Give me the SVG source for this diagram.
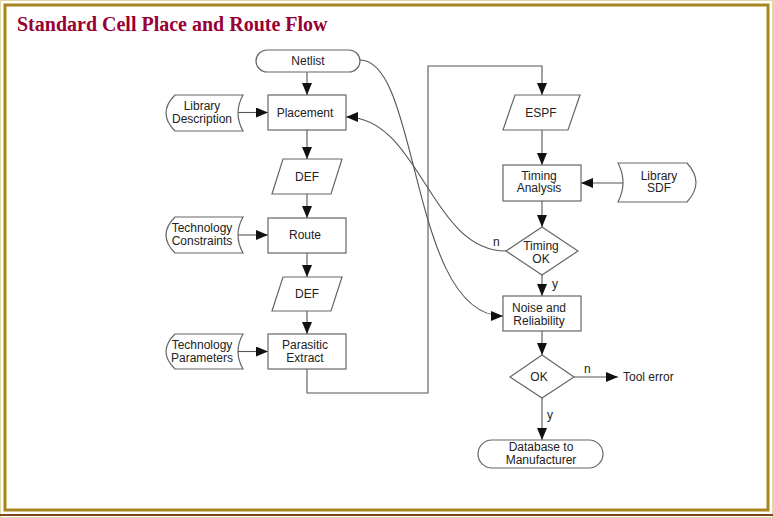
<svg xmlns="http://www.w3.org/2000/svg" width="773" height="518" viewBox="0 0 773 518">
<defs>
<style>
.shape{fill:#fff;stroke:#666;stroke-width:1.2}
.line{fill:none;stroke:#555;stroke-width:1.1}
.t{font-family:"Liberation Sans",Arial,sans-serif;font-size:12px;fill:#222;text-anchor:middle}
.lbl{font-family:"Liberation Sans",Arial,sans-serif;font-size:12px;fill:#222}
.title{font-family:"Liberation Serif","Times New Roman",serif;font-size:20px;font-weight:bold;fill:#990033}
</style>
<marker id="ah" markerUnits="userSpaceOnUse" markerWidth="12" markerHeight="10" refX="12" refY="5" orient="auto">
<path d="M0,0 L12,5 L0,10 Z" fill="#111"/>
</marker>
</defs>
<rect x="0" y="0" width="773" height="518" fill="#fff"/>
<rect x="0.5" y="0.5" width="772" height="517" fill="none" stroke="#E6D7A6" stroke-width="1"/>
<rect x="5" y="5" width="763" height="505" fill="none" stroke="#A8861E" stroke-width="3"/>
<line x1="0" y1="515" x2="773" y2="515" stroke="#7A4A1A" stroke-width="2"/>
<text class="title" x="17" y="31">Standard Cell Place and Route Flow</text>

<g id="connectors">
<line class="line" x1="307" y1="72" x2="307" y2="95" marker-end="url(#ah)"/>
<line class="line" x1="238" y1="112.5" x2="268" y2="112.5" marker-end="url(#ah)"/>
<line class="line" x1="307" y1="130" x2="307" y2="159" marker-end="url(#ah)"/>
<line class="line" x1="307" y1="194" x2="307" y2="218" marker-end="url(#ah)"/>
<line class="line" x1="238" y1="235" x2="268" y2="235" marker-end="url(#ah)"/>
<line class="line" x1="307" y1="253" x2="307" y2="277" marker-end="url(#ah)"/>
<line class="line" x1="307" y1="311" x2="307" y2="334" marker-end="url(#ah)"/>
<line class="line" x1="238" y1="351.5" x2="268" y2="351.5" marker-end="url(#ah)"/>
<path class="line" d="M307,369 V393 H428 V66 H542 V95" marker-end="url(#ah)"/>
<line class="line" x1="542" y1="130" x2="542" y2="165" marker-end="url(#ah)"/>
<line class="line" x1="623" y1="183" x2="581" y2="183" marker-end="url(#ah)"/>
<line class="line" x1="542" y1="201" x2="542" y2="227" marker-end="url(#ah)"/>
<path class="line" d="M506,251 C430,251 420,117 346,117" marker-end="url(#ah)"/>
<line class="line" x1="542" y1="275" x2="542" y2="296" marker-end="url(#ah)"/>
<path class="line" d="M360,60 C420,60 410,316 503,316" marker-end="url(#ah)"/>
<line class="line" x1="542" y1="331" x2="542" y2="355" marker-end="url(#ah)"/>
<line class="line" x1="574" y1="377" x2="618" y2="377" marker-end="url(#ah)"/>
<line class="line" x1="542" y1="398" x2="542" y2="440" marker-end="url(#ah)"/>
<text class="lbl" x="493" y="246">n</text>
<text class="lbl" x="552" y="288">y</text>
<text class="lbl" x="584" y="373">n</text>
<text class="lbl" x="547" y="419">y</text>
<text class="lbl" x="623" y="381">Tool error</text>
</g>

<g id="netlist">
<rect class="shape" x="256" y="50" width="104" height="22" rx="11"/>
<text class="t" x="308" y="65">Netlist</text>
</g>
<g id="library-description">
<path class="shape" d="M175,95 L243,95 Q233,113 243,131 L175,131 Q157,113 175,95 Z"/>
<text class="t" x="202" y="110">Library</text>
<text class="t" x="202" y="122.5">Description</text>
</g>
<g id="placement">
<rect class="shape" x="268" y="95" width="78" height="35"/>
<text class="t" x="305" y="116.5">Placement</text>
</g>
<g id="def1">
<path class="shape" d="M283,159 L342,159 L331,194 L272,194 Z"/>
<text class="t" x="307" y="181">DEF</text>
</g>
<g id="technology-constraints">
<path class="shape" d="M175,217 L243,217 Q233,235 243,253 L175,253 Q157,235 175,217 Z"/>
<text class="t" x="202" y="232">Technology</text>
<text class="t" x="202" y="244.5">Constraints</text>
</g>
<g id="route">
<rect class="shape" x="268" y="218" width="78" height="35"/>
<text class="t" x="305" y="239">Route</text>
</g>
<g id="def2">
<path class="shape" d="M283,277 L342,277 L331,311 L272,311 Z"/>
<text class="t" x="307" y="298">DEF</text>
</g>
<g id="technology-parameters">
<path class="shape" d="M175,334 L243,334 Q233,351.5 243,369 L175,369 Q157,351.5 175,334 Z"/>
<text class="t" x="202" y="349">Technology</text>
<text class="t" x="202" y="361.5">Parameters</text>
</g>
<g id="parasitic-extract">
<rect class="shape" x="268" y="334" width="78" height="35"/>
<text class="t" x="305" y="349">Parasitic</text>
<text class="t" x="305" y="361.5">Extract</text>
</g>
<g id="espf">
<path class="shape" d="M515,95 L580,95 L568,130 L503,130 Z"/>
<text class="t" x="541" y="117">ESPF</text>
</g>
<g id="timing-analysis">
<rect class="shape" x="503" y="165" width="78" height="36"/>
<text class="t" x="539" y="179.5">Timing</text>
<text class="t" x="539" y="192">Analysis</text>
</g>
<g id="library-sdf">
<path class="shape" d="M618,163 L687,163 Q705,182.5 687,202 L618,202 Q628,182.5 618,163 Z"/>
<text class="t" x="659" y="179.5">Library</text>
<text class="t" x="659" y="192">SDF</text>
</g>
<g id="timing-ok">
<path class="shape" d="M542,227 L578,251 L542,275 L506,251 Z"/>
<text class="t" x="541" y="250">Timing</text>
<text class="t" x="541" y="262.5">OK</text>
</g>
<g id="noise-reliability">
<rect class="shape" x="503" y="296" width="78" height="35"/>
<text class="t" x="539" y="312">Noise and</text>
<text class="t" x="539" y="324.5">Reliability</text>
</g>
<g id="ok">
<path class="shape" d="M542,355 L574,377 L542,398 L510,377 Z"/>
<text class="t" x="539" y="381">OK</text>
</g>
<g id="database">
<rect class="shape" x="478" y="440" width="125" height="28" rx="14"/>
<text class="t" x="541" y="451">Database to</text>
<text class="t" x="541" y="463.5">Manufacturer</text>
</g>
</svg>
